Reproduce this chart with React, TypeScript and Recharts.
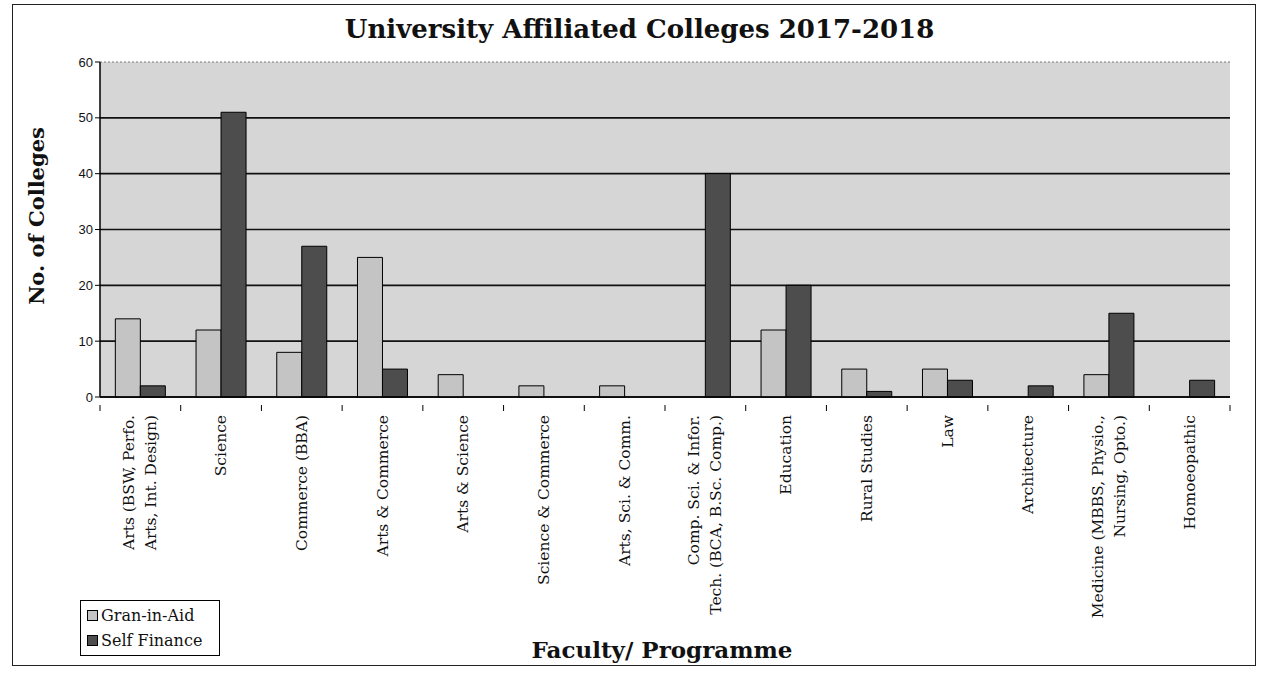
import { Bar, BarChart, CartesianGrid, XAxis, YAxis } from "recharts";

const FACULTIES = [
  ["Arts (BSW, Perfo.", "Arts, Int. Design)"],
  ["Science"],
  ["Commerce (BBA)"],
  ["Arts & Commerce"],
  ["Arts & Science"],
  ["Science & Commerce"],
  ["Arts, Sci. & Comm."],
  ["Comp. Sci. & Infor.", "Tech. (BCA, B.Sc. Comp.)"],
  ["Education"],
  ["Rural Studies"],
  ["Law"],
  ["Architecture"],
  ["Medicine (MBBS, Physio.,", "Nursing, Opto.)"],
  ["Homoeopathic"],
];
const GRANT_IN_AID = [14, 12, 8, 25, 4, 2, 2, 0, 12, 5, 5, 0, 4, 0];
const SELF_FINANCE = [2, 51, 27, 5, 0, 0, 0, 40, 20, 1, 3, 2, 15, 3];
const Y_TICKS = [0, 10, 20, 30, 40, 50, 60];

const data = FACULTIES.map((lines, i) => ({
  name: lines.join(" "),
  lines,
  grant: GRANT_IN_AID[i],
  self: SELF_FINANCE[i],
}));

const LIGHT = "#c4c4c4";
const DARK = "#4d4d4d";
const SERIF = "'DejaVu Serif', serif";

const FacultyTick = (props: any) => {
  const { x, y, payload, index } = props;
  const lines: string[] = data[index]?.lines ?? [payload.value];
  const half = payload.offset ?? 40;
  const lineGap = 22;
  const start = -((lines.length - 1) * lineGap) / 2;
  return (
    <g>
      <line x1={x - half} x2={x - half} y1={y} y2={y + 6} stroke="#000" />
      {index === data.length - 1 && (
        <line x1={x + half} x2={x + half} y1={y} y2={y + 6} stroke="#000" />
      )}
      {lines.map((t, i) => (
        <text
          key={i}
          x={0}
          y={0}
          transform={`translate(${x + start + i * lineGap + 5},${y + 10}) rotate(-90)`}
          textAnchor="end"
          fontFamily={SERIF}
          fontSize={15.5}
          fill="#111"
        >
          {t}
        </text>
      ))}
    </g>
  );
};

const GridLine = (props: any) => {
  const { x1, x2, y1, y2, top } = props;
  const isTop = Math.abs(y1 - top) < 1;
  return (
    <line
      x1={x1}
      x2={x2}
      y1={y1}
      y2={y2}
      stroke={isTop ? "#777" : "#111"}
      strokeWidth={isTop ? 1 : 1.6}
      strokeDasharray={isTop ? "2 2" : undefined}
    />
  );
};

const LegendBox = () => (
  <div
    style={{
      position: "absolute",
      left: 80,
      top: 600,
      width: 132,
      padding: "2px 0 2px 6px",
      border: "1px solid #000",
      background: "#fff",
      fontFamily: SERIF,
      fontSize: 16,
      color: "#111",
      lineHeight: "25px",
    }}
  >
    {[
      ["Gran-in-Aid", LIGHT],
      ["Self Finance", DARK],
    ].map(([label, color]) => (
      <div key={label} style={{ display: "flex", alignItems: "center", whiteSpace: "nowrap" }}>
        <span
          style={{
            display: "inline-block",
            width: 9,
            height: 9,
            background: color,
            border: "1px solid #000",
            marginRight: 3,
          }}
        />
        {label}
      </div>
    ))}
  </div>
);

export default function App() {
  return (
    <div style={{ position: "absolute", left: 0, top: 0, width: 1261, height: 674, background: "#fff" }}>
      <div
        style={{
          position: "absolute",
          left: 12,
          top: 4,
          width: 1242,
          height: 660,
          border: "1.5px solid #222",
        }}
      />
      <BarChart
        width={1261}
        height={674}
        data={data}
        margin={{ top: 62, right: 31, left: 60, bottom: 77 }}
        barGap={0}
        barCategoryGap="19%"
        style={{ position: "absolute", left: 0, top: 0 }}
      >
        <CartesianGrid
          vertical={false}
          fill="#d6d6d6"
          horizontal={(p: any) => <GridLine key={p.key} {...p} top={62} />}
        />
        <XAxis
          dataKey="name"
          interval={0}
          height={200}
          axisLine={{ stroke: "#000", strokeWidth: 1.5 }}
          tickLine={false}
          tick={<FacultyTick />}
        />
        <YAxis
          width={40}
          domain={[0, 60]}
          ticks={Y_TICKS}
          interval={0}
          axisLine={{ stroke: "#000", strokeWidth: 1.5 }}
          tickLine={{ stroke: "#000" }}
          tickSize={5}
          tick={{ fill: "#111", fontSize: 13, fontFamily: "'Liberation Sans', sans-serif" }}
        />
        <Bar dataKey="grant" name="Gran-in-Aid" fill={LIGHT} stroke="#000" strokeWidth={1} isAnimationActive={false} />
        <Bar dataKey="self" name="Self Finance" fill={DARK} stroke="#000" strokeWidth={1} isAnimationActive={false} />
      </BarChart>
      <div
        style={{
          position: "absolute",
          left: 0,
          width: 1261,
          top: 14,
          textAlign: "center",
          fontFamily: SERIF,
          fontWeight: "bold",
          fontSize: 26,
          color: "#111",
          paddingLeft: 9,
        }}
      >
        University Affiliated Colleges 2017-2018
      </div>
      <div
        style={{
          position: "absolute",
          left: 36,
          top: 216,
          transform: "translate(-50%, -50%) rotate(-90deg)",
          fontFamily: SERIF,
          fontWeight: "bold",
          fontSize: 21,
          whiteSpace: "nowrap",
          color: "#111",
        }}
      >
        No. of Colleges
      </div>
      <div
        style={{
          position: "absolute",
          left: 662,
          top: 649,
          transform: "translate(-50%, -50%)",
          fontFamily: SERIF,
          fontWeight: "bold",
          fontSize: 23,
          whiteSpace: "nowrap",
          color: "#111",
        }}
      >
        Faculty/ Programme
      </div>
      <LegendBox />
    </div>
  );
}
